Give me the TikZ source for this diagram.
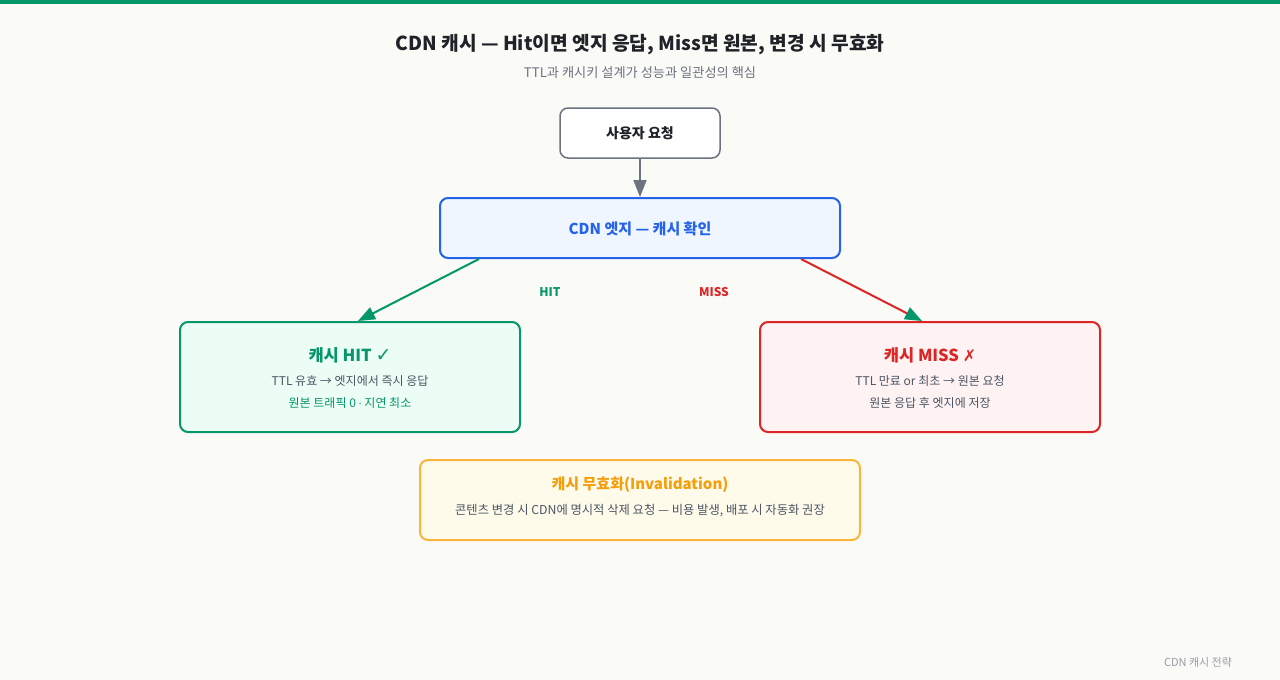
\documentclass[tikz,border=0pt]{standalone}
\usepackage{fontspec}
\setmainfont{Noto Sans CJK KR}
\newfontfamily\symfont{DejaVu Sans}
\usetikzlibrary{arrows.meta}

\definecolor{bgcol}{HTML}{FAFAF6}
\definecolor{ink}{HTML}{1F2328}
\definecolor{greycol}{HTML}{6B7280}
\definecolor{textcol}{HTML}{4B5563}
\definecolor{hitcol}{HTML}{059669}
\definecolor{hitfill}{HTML}{ECFDF5}
\definecolor{misscol}{HTML}{DC2626}
\definecolor{missfill}{HTML}{FEF2F2}
\definecolor{edgecol}{HTML}{2563EB}
\definecolor{edgefill}{HTML}{EFF6FF}
\definecolor{invcol}{HTML}{F59E0B}
\definecolor{invline}{HTML}{FBB53C}
\definecolor{invfill}{HTML}{FFFBEB}

\newcommand{\fsz}[1]{\fontsize{#1}{#1}\selectfont}

\begin{document}
\begin{tikzpicture}[x=1pt,y=-1pt,
    box/.style={draw, rounded corners=8pt, line width=2pt, inner sep=0pt},
    txt/.style={inner sep=0pt, anchor=center},
    link/.style={line width=2pt, -{Triangle[length=17pt,width=13pt]}}]

    % canvas
    \fill[bgcol] (0,0) rectangle (1280,680);
    \fill[hitcol] (0,0) rectangle (1280,4);
    \useasboundingbox (0,0) rectangle (1280,680);

    % title
    \node[txt, text=ink] (title) at (640,45) {\fsz{19.2}\bfseries CDN 캐시 — Hit이면 엣지 응답, Miss면 원본, 변경 시 무효화};
    \node[txt, text=greycol] (subtitle) at (640,73) {\fsz{13.2}TTL과 캐시키 설계가 성능과 일관성의 핵심};

    % user request
    \node[box, draw=greycol, line width=1.5pt, fill=white, minimum width=160pt, minimum height=50pt] (user) at (640,133) {};
    \node[txt, text=ink] (userlbl) at (640,133) {\fsz{14}\bfseries 사용자 요청};

    % CDN edge
    \node[box, draw=edgecol, fill=edgefill, minimum width=400pt, minimum height=60pt] (cdn) at (640,228) {};
    \node[txt, text=edgecol] (cdnlbl) at (640,229) {\fsz{15}\bfseries CDN 엣지 — 캐시 확인};

    % hit
    \node[box, draw=hitcol, fill=hitfill, minimum width=340pt, minimum height=110pt] (hit) at (350,377) {};
    \node[txt, text=hitcol] (hittitle) at (350,355) {\fsz{16.5}\bfseries 캐시 HIT {\symfont\fsz{19}✓}};
    \node[txt, text=textcol] (hitline1) at (350,381) {\fsz{12}TTL 유효 → 엣지에서 즉시 응답};
    \node[txt, text=hitcol] (hitline2) at (350,403) {\fsz{12}원본 트래픽 0 {\symfont\fsz{10}·} 지연 최소};

    % miss
    \node[box, draw=misscol, fill=missfill, minimum width=340pt, minimum height=110pt] (miss) at (930,377) {};
    \node[txt, text=misscol] (misstitle) at (930,355) {\fsz{16.5}\bfseries 캐시 MISS {\symfont\fsz{16}✗}};
    \node[txt, text=textcol] (missline1) at (930,381) {\fsz{12}TTL 만료 or 최초 → 원본 요청};
    \node[txt, text=textcol] (missline2) at (930,403) {\fsz{12}원본 응답 후 엣지에 저장};

    % invalidation
    \node[box, draw=invline, fill=invfill, minimum width=440pt, minimum height=80pt] (inv) at (640,500) {};
    \node[txt, text=invcol] (invtitle) at (640,485) {\fsz{15}\bfseries 캐시 무효화(Invalidation)};
    \node[txt, text=textcol] (invline1) at (640,511) {\fsz{12.3}콘텐츠 변경 시 CDN에 명시적 삭제 요청 — 비용 발생, 배포 시 자동화 권장};

    % arrows
    \draw[link, greycol] (user.south) -- (cdn.north);
    \draw[link, hitcol] ([xshift=40pt]cdn.south west) -- ([xshift=8pt]hit.north);
    \draw[line width=2pt, misscol, -{Triangle[length=17pt,width=13pt,fill=hitcol,color=hitcol]}] ([xshift=-40pt]cdn.south east) -- ([xshift=-8pt]miss.north);
    \node[txt, text=hitcol] (hitlbl) at (550,292) {\fsz{12}\bfseries HIT};
    \node[txt, text=misscol] (misslbl) at (714,292) {\fsz{12}\bfseries MISS};

    % footer
    \node[txt, text=greycol!70] (footer) at (1198,662) {\fsz{11}CDN 캐시 전략};
\end{tikzpicture}
\end{document}
